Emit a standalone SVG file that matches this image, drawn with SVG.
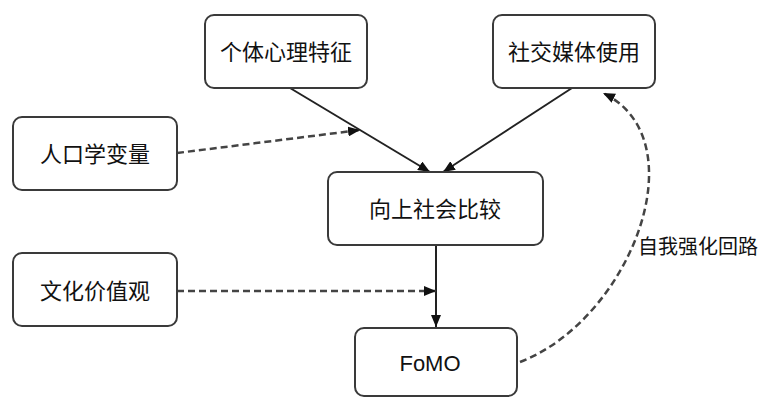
<svg xmlns="http://www.w3.org/2000/svg" width="764" height="398" viewBox="0 0 764 398">
<defs>
<style>
.box{fill:#fff;stroke:#3a3a3a;stroke-width:2}
.t{font-family:"Liberation Sans","Noto Sans CJK SC",sans-serif;font-size:22px;fill:#111;text-anchor:middle;dominant-baseline:central}
.solid{fill:none;stroke:#222;stroke-width:2}
.dash{fill:none;stroke:#444;stroke-width:2.5;stroke-dasharray:7 4}
.lbl{font-family:"Liberation Sans","Noto Sans CJK SC",sans-serif;font-size:20px;fill:#111;dominant-baseline:central}
</style>
<marker id="ah" viewBox="0 0 12 10" refX="12" refY="5" markerWidth="12" markerHeight="10" markerUnits="userSpaceOnUse" orient="auto">
<path d="M0,0 L12,5 L0,10 z" fill="#111"/>
</marker>
</defs>
<g id="connectors">
<path class="solid" d="M290,88 L430,172" marker-end="url(#ah)"/>
<path class="solid" d="M572,88 L443,172" marker-end="url(#ah)"/>
<path class="dash" d="M177,153 L360,130" marker-end="url(#ah)"/>
<path class="solid" d="M436,245 L436,327" marker-end="url(#ah)"/>
<path class="dash" d="M177,291 L436,291" marker-end="url(#ah)"/>
<path class="dash" d="M520,362 C630,320 700,140 603,93" marker-end="url(#ah)"/>
<text class="lbl" x="638" y="247">自我强化回路</text>
</g>
<g id="n1"><rect class="box" x="205" y="15" width="162" height="73" rx="9"/><text class="t" x="286" y="52">个体心理特征</text></g>
<g id="n2"><rect class="box" x="493" y="15" width="162" height="73" rx="9"/><text class="t" x="574" y="52">社交媒体使用</text></g>
<g id="n3"><rect class="box" x="13" y="117" width="164" height="73" rx="9"/><text class="t" x="95" y="154">人口学变量</text></g>
<g id="n4"><rect class="box" x="328" y="172" width="215" height="73" rx="9"/><text class="t" x="435" y="209">向上社会比较</text></g>
<g id="n5"><rect class="box" x="13" y="253" width="164" height="73" rx="9"/><text class="t" x="95" y="291">文化价值观</text></g>
<g id="n6"><rect class="box" x="355" y="328" width="162" height="68" rx="9"/><text class="t" x="430" y="363">FoMO</text></g>
</svg>
